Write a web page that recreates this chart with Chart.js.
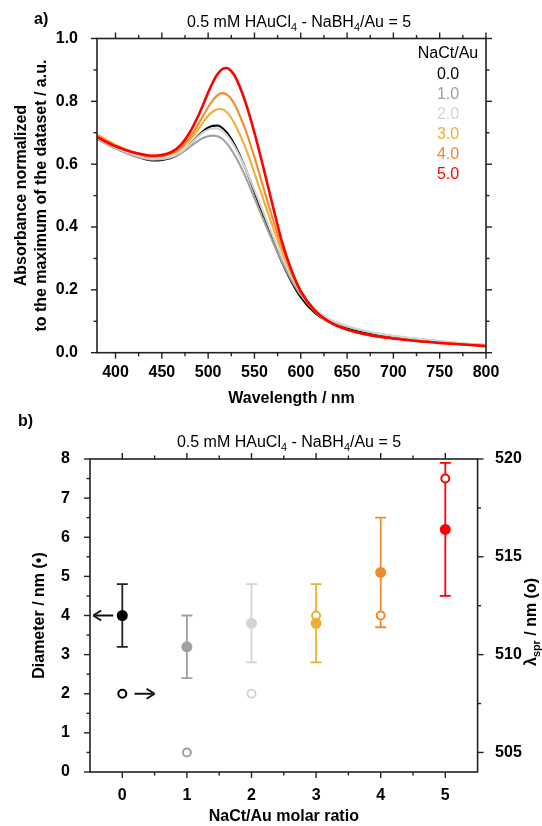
<!DOCTYPE html>
<html>
<head>
<meta charset="utf-8">
<script src="https://cdn.jsdelivr.net/npm/chart.js@4.4.1/dist/chart.umd.min.js"></script>
<style>
  body { margin: 0; background: #fff; }
  #wrap { position: relative; width: 542px; height: 826px; }
  canvas { position: absolute; left: 0; }
  #spectra { top: 0; }
  #sizes { top: 410px; }
</style>
</head>
<body>
<div id="wrap">
  <canvas id="spectra" width="542" height="410"></canvas>
  <canvas id="sizes" width="542" height="416"></canvas>
</div>
<script>
// ---- panel a) spectra ----
var wavelengths = [380, 400, 420, 440, 460, 470, 480, 490, 495, 500, 505, 510, 515, 520, 525, 530, 540, 550, 560, 570, 580, 590, 600, 615, 630, 650, 675, 700, 725, 750, 775, 800];
var abs00 = [.682, .652, .627, .612, .620, .635, .662, .693, .706, .716, .722, .723, .716, .701, .680, .654, .588, .512, .432, .356, .286, .226, .177, .127, .098, .077, .060, .049, .041, .034, .028, .023];
var abs10 = [.680, .650, .626, .614, .621, .634, .654, .676, .684, .689, .691, .689, .681, .666, .646, .622, .562, .492, .421, .352, .288, .231, .184, .134, .105, .083, .065, .053, .044, .036, .029, .024];
var abs20 = [.684, .654, .630, .617, .624, .638, .662, .690, .702, .710, .714, .714, .707, .693, .673, .648, .588, .518, .444, .371, .303, .242, .192, .139, .108, .085, .066, .054, .045, .037, .030, .025];
var abs30 = [.695, .662, .637, .624, .632, .648, .676, .714, .735, .754, .767, .775, .775, .766, .747, .721, .655, .572, .485, .399, .320, .250, .192, .132, .098, .073, .056, .046, .038, .032, .027, .022];
var abs40 = [.690, .659, .636, .624, .634, .652, .685, .730, .756, .781, .803, .819, .826, .822, .807, .782, .712, .622, .522, .424, .335, .260, .198, .135, .099, .073, .055, .045, .037, .031, .026, .021];
var abs50 = [.686, .657, .637, .627, .638, .660, .700, .758, .792, .828, .860, .886, .902, .906, .896, .874, .800, .700, .585, .465, .350, .262, .195, .135, .100, .074, .056, .045, .037, .031, .026, .021];
var ratioLabels = ['0.0', '1.0', '2.0', '3.0', '4.0', '5.0'];
var specXTicks = [400, 450, 500, 550, 600, 650, 700, 750, 800];
var specYTicks = [0, 0.2, 0.4, 0.6, 0.8, 1.0];

// ---- panel b) sizes ----
var molarRatio = [0, 1, 2, 3, 4, 5];
var diameter = [4.0, 3.2, 3.8, 3.8, 5.1, 6.2];
var diameterLow = [3.2, 2.4, 2.8, 2.8, 3.7, 4.5];
var diameterHigh = [4.8, 4.0, 4.8, 4.8, 6.5, 7.9];
var lambdaSpr = [508, 505, 508, 512, 512, 519];
var sizeXTicks = [0, 1, 2, 3, 4, 5];
var diameterTicks = [0, 1, 2, 3, 4, 5, 6, 7, 8];
var lambdaTicks = [505, 510, 515, 520];

var seriesColors = ['#000000', '#a0a0a0', '#d4d4d4', '#eeb034', '#f28a2e', '#ff0000'];
var titleParts = [['0.5 mM HAuCl', 0], ['4', 1], [' - NaBH', 0], ['4', 1], ['/Au = 5', 0]];

Chart.defaults.font.family = "'Liberation Sans', Arial, sans-serif";
Chart.defaults.font.size = 16;
Chart.defaults.color = '#000';

function drawParts(ctx, parts, x, y, size, weight, align) {
  var widths = parts.map(function(p) {
    ctx.font = weight + ' ' + (p[1] ? size * 0.68 : size) + 'px ' + Chart.defaults.font.family;
    return ctx.measureText(p[0]).width;
  });
  var total = widths.reduce(function(a, b) { return a + b; }, 0);
  var cx = align === 'center' ? x - total / 2 : x;
  ctx.textBaseline = 'middle';
  ctx.textAlign = 'left';
  parts.forEach(function(p, i) {
    ctx.font = weight + ' ' + (p[1] ? size * 0.68 : size) + 'px ' + Chart.defaults.font.family;
    ctx.fillText(p[0], cx, y + (p[1] ? size * 0.3 : 0));
    cx += widths[i];
  });
}

// frame and tick marks (major + minor, all outside)
var framePlugin = {
  id: 'frame',
  afterDatasetsDraw: function(chart, args, opts) {
    var ctx = chart.ctx, a = chart.chartArea;
    ctx.save();
    ctx.strokeStyle = '#222';
    ctx.lineWidth = 1.6;
    ctx.strokeRect(a.left, a.top, a.right - a.left, a.bottom - a.top);
    ctx.lineWidth = 1.4;
    opts.marks.forEach(function(m) {
      var sc = chart.scales[m.scale];
      var n = Math.round((m.to - m.from) / m.step);
      for (var k = 0; k <= n; k++) {
        var p = sc.getPixelForValue(m.from + k * m.step);
        var len = k % 2 === 0 ? 6 : 3.5;
        m.sides.forEach(function(side) {
          ctx.beginPath();
          if (side === 'bottom') { ctx.moveTo(p, a.bottom); ctx.lineTo(p, a.bottom + len); }
          if (side === 'top') { ctx.moveTo(p, a.top); ctx.lineTo(p, a.top - len); }
          if (side === 'left') { ctx.moveTo(a.left, p); ctx.lineTo(a.left - len, p); }
          if (side === 'right') { ctx.moveTo(a.right, p); ctx.lineTo(a.right + len, p); }
          ctx.stroke();
        });
      }
    });
    ctx.restore();
  }
};

var spectraExtras = {
  id: 'spectraExtras',
  afterDraw: function(chart) {
    var ctx = chart.ctx;
    ctx.save();
    ctx.fillStyle = '#000';
    drawParts(ctx, titleParts, 299, 23, 16, 'normal', 'center');
    ctx.font = 'bold 16px ' + Chart.defaults.font.family;
    ctx.textAlign = 'left';
    ctx.fillText('a)', 34, 20);
    // legend
    ctx.font = '16px ' + Chart.defaults.font.family;
    ctx.textAlign = 'center';
    ctx.fillText('NaCt/Au', 448, 54);
    ratioLabels.forEach(function(lbl, i) {
      ctx.fillStyle = seriesColors[i];
      ctx.fillText(lbl, 448, 75 + i * 20);
    });
    ctx.restore();
  }
};

var seriesData = [abs00, abs10, abs20, abs30, abs40, abs50];

new Chart(document.getElementById('spectra'), {
  type: 'line',
  data: {
    datasets: seriesData.map(function(vals, i) {
      return {
        label: ratioLabels[i],
        data: wavelengths.map(function(w, j) { return { x: w, y: vals[j] }; }),
        borderColor: seriesColors[i],
        borderWidth: i === 5 ? 2.6 : 2.1,
        pointRadius: 0,
        cubicInterpolationMode: 'monotone',
        order: seriesData.length - i
      };
    })
  },
  options: {
    responsive: false,
    animation: false,
    events: [],
    layout: { padding: { top: 38.5, right: 56, left: 0, bottom: 0 } },
    plugins: {
      legend: { display: false },
      tooltip: { enabled: false },
      frame: { marks: [
        { scale: 'x', sides: ['bottom', 'top'], from: 400, to: 800, step: 25 },
        { scale: 'y', sides: ['left', 'right'], from: 0, to: 1, step: 0.1 }
      ] }
    },
    scales: {
      x: {
        type: 'linear', min: 380, max: 800,
        grid: { display: false }, border: { display: false },
        afterBuildTicks: function(s) { s.ticks = specXTicks.map(function(v) { return { value: v }; }); },
        afterFit: function(s) { s.height = 57.3; },
        ticks: { padding: 2, font: { weight: 'bold' } },
        title: { display: true, text: 'Wavelength / nm', font: { weight: 'bold' }, padding: { top: 0, bottom: 2 } }
      },
      y: {
        min: 0, max: 1,
        grid: { display: false }, border: { display: false },
        afterBuildTicks: function(s) { s.ticks = specYTicks.map(function(v) { return { value: v }; }); },
        afterFit: function(s) { s.width = 97; },
        ticks: { padding: 11, font: { weight: 'bold' }, callback: function(v) { return v.toFixed(1); } },
        title: { display: true, text: ['Absorbance normalized', 'to the maximum of the dataset / a.u.'], font: { weight: 'bold' }, padding: { top: 12.4, bottom: 0 } }
      }
    }
  },
  plugins: [framePlugin, spectraExtras]
});

// ---- panel b ----
var arrows = [
  { from: -0.14, to: -0.45, y: 4 },
  { from: 0.19, to: 0.5, y: 2 }
];

var errorBarPlugin = {
  id: 'errorBars',
  beforeDatasetsDraw: function(chart) {
    var ctx = chart.ctx, xs = chart.scales.x, ys = chart.scales.y;
    ctx.save();
    ctx.lineWidth = 1.8;
    molarRatio.forEach(function(r, i) {
      var x = xs.getPixelForValue(r);
      var lo = ys.getPixelForValue(diameterLow[i]);
      var hi = ys.getPixelForValue(diameterHigh[i]);
      ctx.strokeStyle = i === 0 ? '#222' : seriesColors[i];
      ctx.beginPath();
      ctx.moveTo(x, lo); ctx.lineTo(x, hi);
      ctx.moveTo(x - 5.5, lo); ctx.lineTo(x + 5.5, lo);
      ctx.moveTo(x - 5.5, hi); ctx.lineTo(x + 5.5, hi);
      ctx.stroke();
    });
    ctx.restore();
  }
};

var sizesExtras = {
  id: 'sizesExtras',
  afterDraw: function(chart) {
    var ctx = chart.ctx, xs = chart.scales.x, ys = chart.scales.y;
    ctx.save();
    ctx.fillStyle = '#000';
    drawParts(ctx, titleParts, 289, 33, 16, 'normal', 'center');
    ctx.font = 'bold 16px ' + Chart.defaults.font.family;
    ctx.textAlign = 'left';
    ctx.textBaseline = 'middle';
    ctx.fillText('b)', 18, 12);
    // arrows pointing to the matching axis
    ctx.strokeStyle = '#111';
    ctx.fillStyle = '#111';
    ctx.lineWidth = 2;
    arrows.forEach(function(ar) {
      var x0 = xs.getPixelForValue(ar.from), x1 = xs.getPixelForValue(ar.to), y = ys.getPixelForValue(ar.y);
      var d = x1 > x0 ? 1 : -1;
      ctx.beginPath();
      ctx.moveTo(x0, y); ctx.lineTo(x1 - d * 2, y);
      ctx.stroke();
      ctx.beginPath();
      ctx.moveTo(x1, y);
      ctx.lineTo(x1 - d * 8, y - 5);
      ctx.moveTo(x1, y);
      ctx.lineTo(x1 - d * 8, y + 5);
      ctx.stroke();
    });
    // right axis title, reading bottom to top
    ctx.translate(532, 212);
    ctx.rotate(-Math.PI / 2);
    ctx.fillStyle = '#000';
    drawParts(ctx, [['\u03bb', 0], ['spr', 1], [' / nm (o)', 0]], 0, 0, 16, 'bold', 'center');
    ctx.restore();
  }
};

new Chart(document.getElementById('sizes'), {
  type: 'scatter',
  data: {
    datasets: [
      {
        label: 'Diameter',
        data: molarRatio.map(function(r, i) { return { x: r, y: diameter[i] }; }),
        yAxisID: 'y',
        pointRadius: 5.5,
        pointBackgroundColor: seriesColors,
        pointBorderColor: seriesColors,
        pointBorderWidth: 0
      },
      {
        label: 'lambda SPR',
        data: molarRatio.map(function(r, i) { return { x: r, y: lambdaSpr[i] }; }),
        yAxisID: 'y2',
        pointRadius: 4,
        pointBackgroundColor: '#fff',
        pointBorderColor: seriesColors,
        pointBorderWidth: 2
      }
    ]
  },
  options: {
    responsive: false,
    animation: false,
    events: [],
    layout: { padding: { top: 49, right: 0, left: 0, bottom: 0 } },
    plugins: {
      legend: { display: false },
      tooltip: { enabled: false },
      frame: { marks: [
        { scale: 'x', sides: ['bottom', 'top'], from: 0, to: 5, step: 0.5 },
        { scale: 'y', sides: ['left'], from: 0, to: 8, step: 0.5 },
        { scale: 'y2', sides: ['right'], from: 505, to: 520, step: 2.5 }
      ] }
    },
    scales: {
      x: {
        type: 'linear', min: -0.5, max: 5.5,
        grid: { display: false }, border: { display: false },
        afterBuildTicks: function(s) { s.ticks = sizeXTicks.map(function(v) { return { value: v }; }); },
        afterFit: function(s) { s.height = 54; },
        ticks: { padding: 6, font: { weight: 'bold' } },
        title: { display: true, text: 'NaCt/Au molar ratio', font: { weight: 'bold' }, padding: { top: 0, bottom: 0 } }
      },
      y: {
        position: 'left', min: 0, max: 8,
        grid: { display: false }, border: { display: false },
        afterBuildTicks: function(s) { s.ticks = diameterTicks.map(function(v) { return { value: v }; }); },
        afterFit: function(s) { s.width = 90; },
        ticks: { padding: 12, font: { weight: 'bold' } },
        title: { display: true, text: 'Diameter / nm (\u2022)', font: { weight: 'bold' }, padding: { top: 30, bottom: 0 } }
      },
      y2: {
        position: 'right', min: 504, max: 520,
        grid: { display: false }, border: { display: false },
        afterBuildTicks: function(s) { s.ticks = lambdaTicks.map(function(v) { return { value: v }; }); },
        afterFit: function(s) { s.width = 64.4; },
        ticks: { padding: 9.5, font: { weight: 'bold' } }
      }
    }
  },
  plugins: [framePlugin, errorBarPlugin, sizesExtras]
});
</script>
</body>
</html>
